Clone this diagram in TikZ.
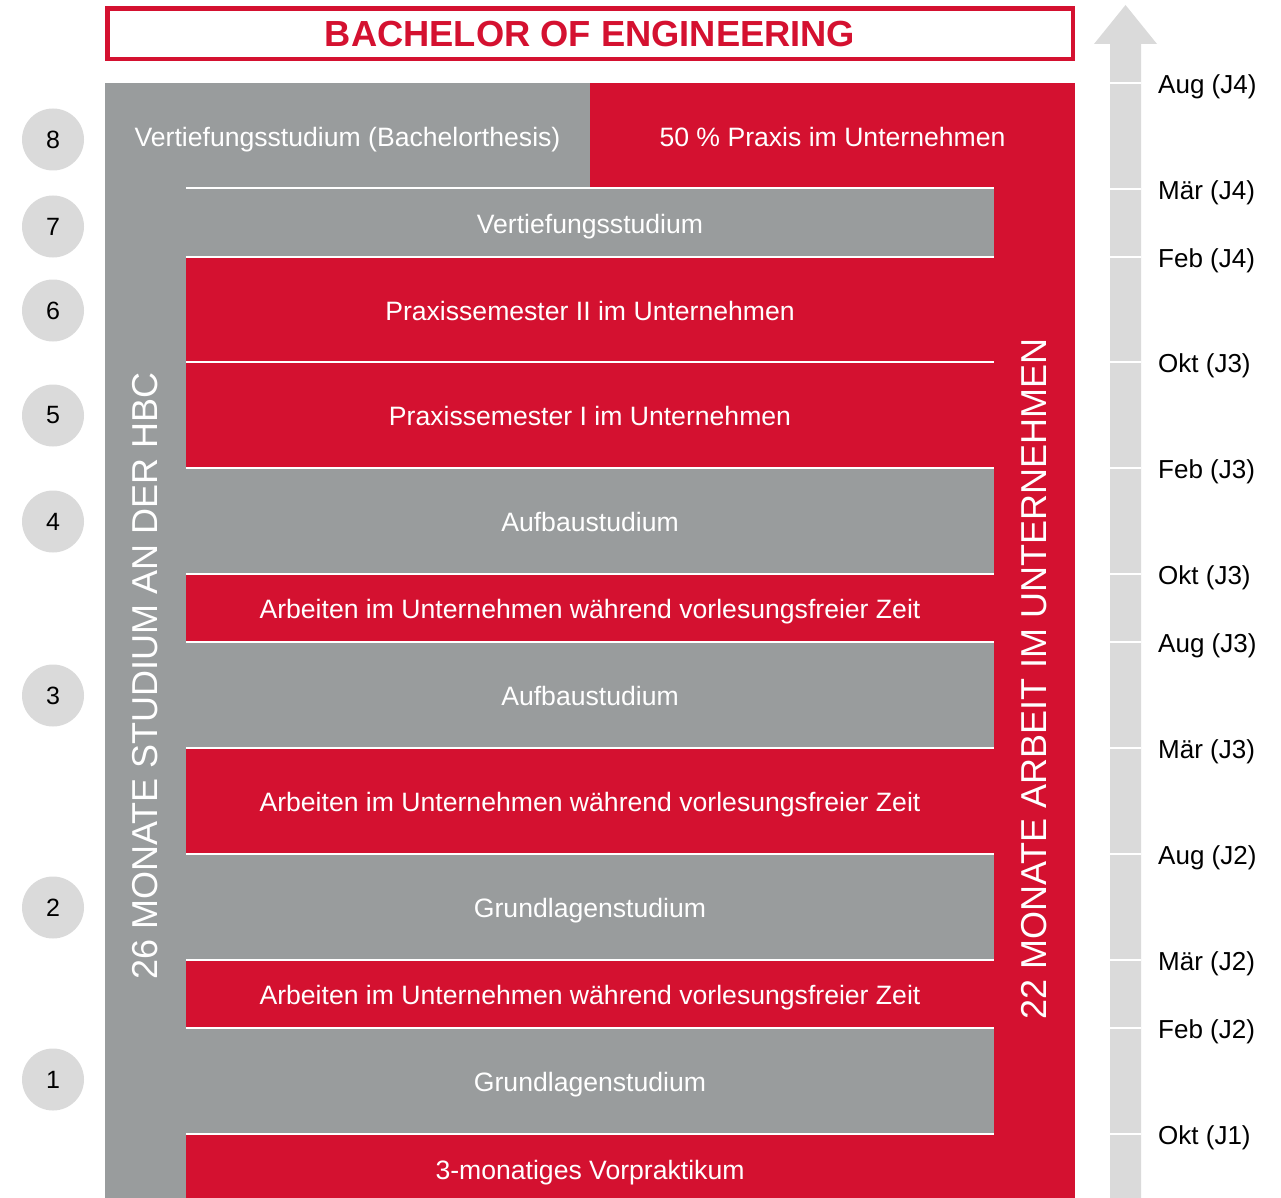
\documentclass[tikz,border=0pt]{standalone}
\usepackage{fontspec}
\setmainfont{Liberation Sans}
\definecolor{hred}{HTML}{D41130}
\definecolor{hgray}{HTML}{999C9D}
\definecolor{lgray}{HTML}{DADADA}
\begin{document}
\begin{tikzpicture}[x=1pt,y=-1pt,
  rowtext/.style={inner sep=0pt, text=white, font=\fontsize{26.6}{30}\selectfont, text height=21.5pt, text depth=0pt},
  box/.style={rowtext, minimum width=808pt},
  gbox/.style={box, fill=hgray},
  rbox/.style={box, fill=hred},
  num/.style={circle, fill=lgray, minimum size=62pt, inner sep=0pt, font=\fontsize{25}{30}\selectfont},
  month/.style={anchor=west, inner sep=0pt, font=\fontsize{26}{30}\selectfont},
  vtext/.style={rotate=90, text=white, inner sep=0pt, font=\fontsize{36}{40}\selectfont},
  sep/.style={white, line width=2.5pt},
]
\useasboundingbox (0,0) rectangle (1281,1198);
% title
\node[draw=hred, line width=4.5pt, minimum width=965.5pt, minimum height=50.5pt, inner sep=0pt,
      text=hred, font=\fontsize{36.3}{40}\selectfont\bfseries] (title) at (590,34) {BACHELOR OF ENGINEERING};
% columns
\node[fill=hgray, minimum width=81pt, minimum height=1115pt, inner sep=0pt] (lcol) at (145.5,640.5) {};
\node[fill=hred, minimum width=81pt, minimum height=1115pt, inner sep=0pt] (rcol) at (1034.5,640.5) {};
% top row
\node[rowtext, fill=hgray, minimum width=485pt, minimum height=105pt] (r8a) at (347.5,135.5) {Vertiefungsstudium (Bachelorthesis)};
\node[rowtext, fill=hred, minimum width=485pt, minimum height=105pt] (r8b) at (832.5,135.5) {50 \% Praxis im Unternehmen};
% rows
\node[gbox, minimum height=69pt] (r7) at (590,222.5) {Vertiefungsstudium};
\node[rbox, minimum height=105pt] (r6) at (590,309.5) {Praxissemester II im Unternehmen};
\node[rbox, minimum height=106pt] (r5) at (590,415) {Praxissemester I im Unternehmen};
\node[gbox, minimum height=106pt] (r4) at (590,521) {Aufbaustudium};
\node[rbox, minimum height=68pt] (a3) at (590,608) {Arbeiten im Unternehmen während vorlesungsfreier Zeit};
\node[gbox, minimum height=106pt] (r3) at (590,695) {Aufbaustudium};
\node[rbox, minimum height=106pt] (a2) at (590,801) {Arbeiten im Unternehmen während vorlesungsfreier Zeit};
\node[gbox, minimum height=106pt] (r2) at (590,907) {Grundlagenstudium};
\node[rbox, minimum height=68pt] (a1) at (590,994) {Arbeiten im Unternehmen während vorlesungsfreier Zeit};
\node[gbox, minimum height=106pt] (r1) at (590,1081) {Grundlagenstudium};
\node[rbox, minimum height=64pt] (r0) at (590,1166) {};
\node[rowtext] (r0t) at (590,1169) {3-monatiges Vorpraktikum};
% separators
\foreach \n in {r7,r6,r5,r4,a3,r3,a2,r2,a1,r1,r0}{
  \draw[sep] (\n.north west) -- (\n.north east);
}
% vertical texts
\node[vtext] (lt) at (145,676) {26 MONATE STUDIUM AN DER HBC};
\node[vtext] (rt) at (1034,679) {22 MONATE ARBEIT IM UNTERNEHMEN};
% semester numbers
\node[num] (n8) at (53,139.5) {8};
\node[num] (n7) at (53,226.5) {7};
\node[num] (n6) at (53,310.5) {6};
\node[num] (n5) at (53,415.5) {5};
\node[num] (n4) at (53,521.5) {4};
\node[num] (n3) at (53,695.5) {3};
\node[num] (n2) at (53,907.5) {2};
\node[num] (n1) at (53,1079.5) {1};
% timeline arrow
\fill[lgray] (1110,1198) -- (1110,44) -- (1094,44) -- (1125.5,5) -- (1157,44) -- (1141,44) -- (1141,1198) -- cycle;
\foreach \y/\t in {83/Aug (J4),189/Mär (J4),257/Feb (J4),362/Okt (J3),468/Feb (J3),574/Okt (J3),642/Aug (J3),748/Mär (J3),854/Aug (J2),960/Mär (J2),1028/Feb (J2),1134/Okt (J1)}{
  \draw[sep] (1110,\y) -- (1141,\y);
  \node[month] at (1158,\y+3.5) {\t};
}
\end{tikzpicture}
\end{document}
